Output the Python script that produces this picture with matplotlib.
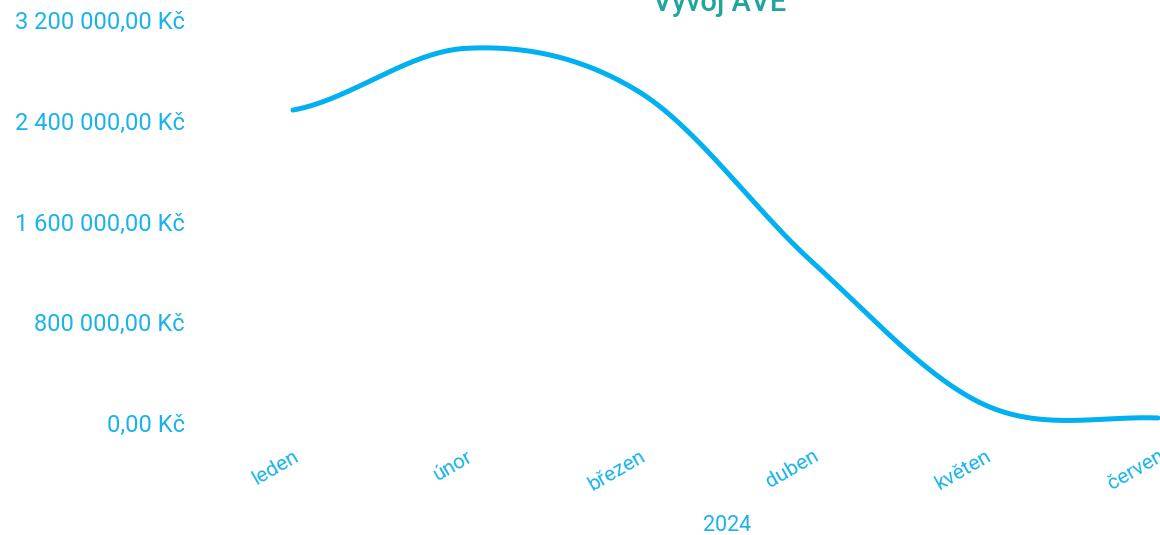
import numpy as np
import matplotlib
matplotlib.use("Agg")
import matplotlib.pyplot as plt
from matplotlib.ticker import FuncFormatter

# data (CZK)
months = ["leden", "únor", "březen", "duben", "květen", "červen"]
ave = [2485000, 2975000, 2630000, 1280000, 143000, 40000]
yticks = [0, 800000, 1600000, 2400000, 3200000]

BLUE = "#00b0f0"
LABEL = "#1ab2ea"
TEAL = "#1fa59a"


def cardinal(y, n=60):
    # smoothed line through the points (catmull-rom, ends duplicated)
    y = np.asarray(y, dtype=float)
    k = len(y)
    p = np.concatenate([[y[0]], y, [y[-1]]])
    xs, ys = [], []
    t = np.linspace(0, 1, n)
    for i in range(k - 1):
        p0, p1, p2, p3 = p[i], p[i + 1], p[i + 2], p[i + 3]
        m1 = (p2 - p0) / 2
        m2 = (p3 - p1) / 2
        h00 = 2 * t**3 - 3 * t**2 + 1
        h10 = t**3 - 2 * t**2 + t
        h01 = -2 * t**3 + 3 * t**2
        h11 = t**3 - t**2
        xs.append(i + t)
        ys.append(h00 * p1 + h10 * m1 + h01 * p2 + h11 * m2)
    return np.concatenate(xs), np.concatenate(ys)


plt.rcParams['font.family'] = ['Roboto', 'DejaVu Sans']

fig = plt.figure(figsize=(11.6, 5.35), dpi=100)
ax = fig.add_axes([206.5 / 1160, 112 / 535, 953.5 / 1160, 403 / 535])

xs, ys = cardinal(ave)
ax.plot(xs, ys, color=BLUE, lw=3.6, solid_capstyle='round', clip_on=False)

ax.set_xlim(-0.5, 5.0 + 2 / 173)
ax.set_ylim(0, 3200000)
ax.set_yticks(yticks)
ax.yaxis.set_major_formatter(FuncFormatter(
    lambda v, p: "{:,.2f}".format(v).replace(",", " ").replace(".", ",") + " Kč"))
ax.set_xticks(range(len(months)))
ax.set_xticklabels(months, rotation=30, ha='right', va='top',
                   rotation_mode='anchor')

ax.tick_params(axis='y', length=0, pad=15.5, labelsize=17, labelcolor=LABEL)
ax.tick_params(axis='x', length=0, pad=17, labelsize=15, labelcolor=LABEL)
for s in ax.spines.values():
    s.set_visible(False)

ax.set_xlabel("2024", color=LABEL, fontsize=15.5, labelpad=4)
ax.xaxis.set_label_coords((727 - 206.5) / 953.5, -92 / 403)

fig.text(720 / 1160, 1 - 11 / 535, "Vývoj AVE", color=TEAL, fontsize=21,
         fontweight='medium', ha='center', va='baseline')

fig.savefig("out.png", dpi=100)
